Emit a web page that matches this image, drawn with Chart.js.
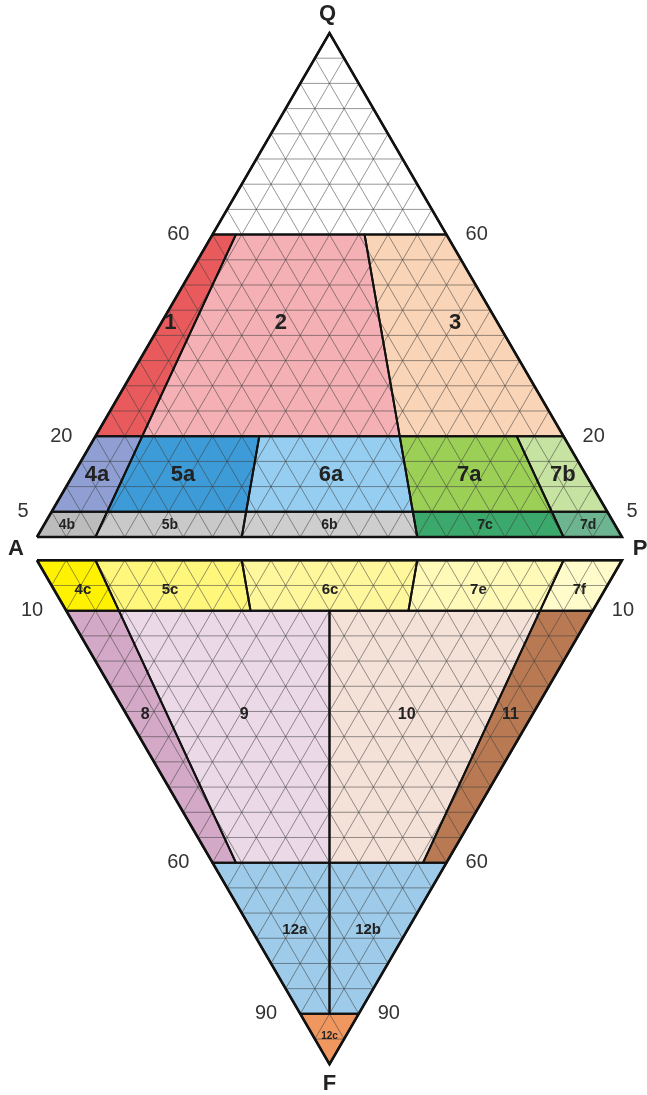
<!DOCTYPE html>
<html><head><meta charset="utf-8">
<script src="https://cdn.jsdelivr.net/npm/chart.js@4.4.0/dist/chart.umd.min.js"></script>
<style>html,body{margin:0;padding:0;background:#fff;}#wrap{width:647px;height:1095px;position:relative;}</style>
</head><body><div id="wrap"><canvas id="c"></canvas></div>
<script>
// ---------------- data ----------------
const fieldNames = ['', '1','2','3','4a','5a','6a','7a','7b','4b','5b','6b','7c','7d',
                    '4c','5c','6c','7e','7f','8','9','10','11','12a','12b','12c'];
const fieldSide  = ['Q','Q','Q','Q','Q','Q','Q','Q','Q','Q','Q','Q','Q','Q',
                    'F','F','F','F','F','F','F','F','F','F','F','F'];
const fieldLow   = [60,20,20,20, 5, 5, 5, 5, 5, 0, 0, 0, 0, 0,  0, 0, 0, 0, 0,10,10,10,10,60,60, 90];
const fieldHigh  = [100,60,60,60,20,20,20,20,20, 5, 5, 5, 5, 5, 10,10,10,10,10,60,60,60,60,90,90,100];
const fieldRatioFrom = [0, 0,10,65, 0,10,35,65,90, 0,10,35,65,90,  0,10,35,65,90, 0,10,50,90, 0,50,  0];
const fieldRatioTo   = [100,10,65,100,10,35,65,90,100,10,35,65,90,100, 10,35,65,90,100,10,50,90,100,50,100,100];
const labelLevel = [0, 42.7,42.7,42.7, 12.5,12.5,12.5,12.5,12.5, 2.6,2.6,2.6,2.6,2.6,
                    5.7,5.7,5.7,5.7,5.7, 30.5,30.5,30.5,30.5, 73.1,73.1, 94.3];
const labelRatio = [0, 2.5,35.5,87.5, 4.6,21.4,50.3,77.3,95.6, 3.9,22,50,77.3,95.4,
                    5.3,21.1,50.1,77,95.3, 4.7,29,69,94.5, 28,74.5, 50];
const fieldColors = ['#ffffff','#e85a5c','#f4b0b4','#f9d4b7','#8f9fd3','#3d9bd8','#96cef1','#9bcf56','#c7e3a2',
                     '#bcbcbc','#c9c9c9','#cecece','#3aa96b','#6db491',
                     '#fff200','#fff67c','#fff79b','#fffab8','#fffbcb','#d3a9c7','#ecd9e8','#f4e2d9','#b97a53',
                     '#9dcbe9','#9dcbe9','#f0965f'];
const qTicks = [5, 20, 60];
const fTicks = [10, 60, 90];
const gridStep = 5;
const vertexNames = ['Q','A','P','F'];

// ---------------- geometry helpers ----------------
const H = 86.6, GAP = 4;
function toXY(side, level, ratio) {
  const t = level / 100;
  return {x: 50 * t + (1 - t) * ratio, y: side === 'Q' ? t * H : -GAP - t * H};
}
function bary(side, p, q) { // p: % of P, q: % of apex
  return {x: p + q / 2, y: side === 'Q' ? q / 100 * H : -GAP - q / 100 * H};
}

const datasets = [];
// grid
const gridPts = [];
['Q','F'].forEach(side => {
  for (let v = gridStep; v < 100; v += gridStep) {
    gridPts.push(bary(side, 0, v), bary(side, 100 - v, v), {x: NaN, y: NaN});
    gridPts.push(bary(side, v, 0), bary(side, v, 100 - v), {x: NaN, y: NaN});
    gridPts.push(bary(side, 100 - v, 0), bary(side, 0, 100 - v), {x: NaN, y: NaN});
  }
});
datasets.push({data: gridPts, showLine: true, spanGaps: false, borderColor: 'rgba(60,60,60,0.6)',
  borderWidth: 0.9, pointRadius: 0, order: 5});

// fields
fieldNames.forEach((n, i) => {
  const s = fieldSide[i], lo = fieldLow[i], hi = fieldHigh[i], r0 = fieldRatioFrom[i], r1 = fieldRatioTo[i];
  const pts = [toXY(s, lo, r0), toXY(s, lo, r1)];
  if (hi >= 100) pts.push(toXY(s, hi, 50));
  else pts.push(toXY(s, hi, r1), toXY(s, hi, r0));
  pts.push(pts[0]);
  datasets.push({data: pts, showLine: true, fillColor: fieldColors[i], borderColor: '#111',
    borderWidth: 2, pointRadius: 0, order: 1, label: n, borderJoinStyle: 'round'});
});
// outer outlines
['Q','F'].forEach(side => {
  datasets.push({data: [bary(side,0,0), bary(side,100,0), bary(side,0,100), bary(side,0,0)], showLine: true,
    borderColor: '#111', borderWidth: 2.6, pointRadius: 0, order: 0, borderJoinStyle: 'miter'});
});

const FONT = "'Liberation Sans', Arial, sans-serif";
const polyFill = {
  id: 'polyFill',
  beforeDatasetsDraw(chart) {
    const ctx = chart.ctx;
    chart.data.datasets.forEach((ds, i) => {
      if (!ds.fillColor) return;
      const meta = chart.getDatasetMeta(i);
      ctx.save(); ctx.beginPath();
      meta.data.forEach((pt, j) => { j ? ctx.lineTo(pt.x, pt.y) : ctx.moveTo(pt.x, pt.y); });
      ctx.closePath(); ctx.fillStyle = ds.fillColor; ctx.fill(); ctx.restore();
    });
  }
};
const textLayer = {
  id: 'textLayer',
  afterDatasetsDraw(chart) {
    const ctx = chart.ctx, xs = chart.scales.x, ys = chart.scales.y;
    const px = p => ({x: xs.getPixelForValue(p.x), y: ys.getPixelForValue(p.y)});
    ctx.save();
    ctx.textBaseline = 'middle';
    fieldNames.forEach((n, i) => {
      if (!n) return;
      const p = px(toXY(fieldSide[i], labelLevel[i], labelRatio[i]));
      let size = 16;
      if (fieldSide[i] === 'Q' && fieldLow[i] >= 5) size = 22;
      if (fieldSide[i] === 'Q' && fieldLow[i] < 5) size = 14;
      if (fieldSide[i] === 'F' && fieldHigh[i] <= 10) size = 15;
      if (fieldSide[i] === 'F' && fieldLow[i] === 60) size = 15;
      if (fieldLow[i] >= 90) size = 10;
      ctx.font = 'bold ' + size + 'px ' + FONT;
      ctx.fillStyle = '#222'; ctx.textAlign = 'center';
      ctx.fillText(n, p.x, p.y + 1);
    });
    ctx.font = '20px ' + FONT; ctx.fillStyle = '#333';
    const drawTicks = (side, ticks) => ticks.forEach(t => {
      const l = px(bary(side, 0, t)), r = px(bary(side, 100 - t, t));
      ctx.textAlign = 'right'; ctx.fillText(String(t), l.x - 23, l.y);
      ctx.textAlign = 'left'; ctx.fillText(String(t), r.x + 19, r.y);
    });
    drawTicks('Q', qTicks); drawTicks('F', fTicks);
    ctx.font = 'bold 22px ' + FONT; ctx.fillStyle = '#222'; ctx.textAlign = 'center';
    const q = px(bary('Q', 0, 100)), a = px({x: 0, y: -GAP / 2}), pp = px({x: 100, y: -GAP / 2}), f = px(bary('F', 0, 100));
    ctx.fillText(vertexNames[0], q.x - 2, q.y - 19);
    ctx.fillText(vertexNames[1], a.x - 21, a.y);
    ctx.fillText(vertexNames[2], pp.x + 18, pp.y);
    ctx.fillText(vertexNames[3], f.x, f.y + 20);
    ctx.restore();
  }
};

new Chart(document.getElementById('c'), {
  type: 'scatter',
  data: {datasets},
  options: {
    responsive: true, maintainAspectRatio: false, animation: false, events: [],
    layout: {padding: 0},
    elements: {line: {tension: 0}},
    plugins: {legend: {display: false}, tooltip: {enabled: false}},
    scales: {
      x: {type: 'linear', min: -6.32, max: 104.27, display: false},
      y: {type: 'linear', min: -95.88, max: 92.27, display: false}
    }
  },
  plugins: [polyFill, textLayer]
});
</script></body></html>
